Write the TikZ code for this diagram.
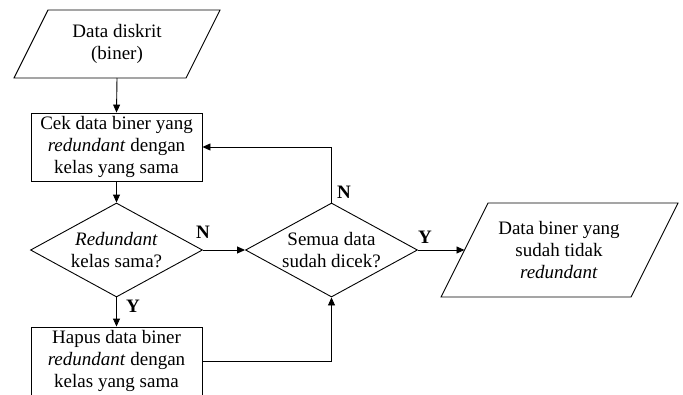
\documentclass[tikz,border=0pt]{standalone}
\usepackage{fontspec}
\setmainfont{Liberation Serif}
\usetikzlibrary{shapes.geometric,arrows.meta}
\begin{document}
\begin{tikzpicture}[x=1pt,y=-1pt,
  line width=0.9pt,
  txt/.style={font=\fontsize{19}{22}\selectfont, align=center, inner sep=0pt},
  procbox/.style={draw, rectangle, minimum width=171pt, minimum height=68pt, txt},
  decision/.style={draw, diamond, minimum width=172pt, minimum height=94pt, inner sep=0pt},
  flow/.style={-{Triangle[length=8pt,width=7pt]}},
  lbl/.style={font=\fontsize{19}{22}\selectfont\bfseries, inner sep=0pt}]
\useasboundingbox (0,0) rectangle (683,394);
\clip (0,0) rectangle (683,394);

% input data (parallelogram)
\draw (48,10) -- (220,10) -- (186,78) -- (14,78) -- cycle;
\node[txt] (in) at (117,44) {Data diskrit\\(biner)};
\coordinate (in-s) at (117,78);

% processing steps
\node[procbox] (check) at (116.5,147) {Cek data biner yang\\\textit{redundant} dengan\\kelas yang sama};
\node[decision] (red) at (116.5,250) {};
\node[txt] (red-t) at (red) {\textit{Redundant}\\kelas sama?};
\node[procbox] (del) at (116.5,361) {Hapus data biner\\\textit{redundant} dengan\\kelas yang sama};
\node[decision] (all) at (331.5,250) {};
\node[txt] (all-t) at (all) {Semua data\\sudah dicek?};

% output data (parallelogram)
\draw (488,203) -- (678,203) -- (631,297) -- (441,297) -- cycle;
\node[txt] (out) at (559,250) {Data biner yang\\sudah tidak\\\textit{redundant}};
\coordinate (out-w) at (464.5,250);

% connectors
\draw[flow] (in-s) -- (check.north);
\draw[flow] (check.south) -- (red.north);
\draw[flow] (red.south) -- (del.north);
\draw[flow] (red.east) -- (all.west);
\draw[flow] (del.east) -| (all.south);
\draw[flow] (all.north) |- (check.east);
\draw[flow] (all.east) -- (out-w);

% branch labels
\node[lbl] (y1) at (133,306) {Y};
\node[lbl] (n1) at (203,232) {N};
\node[lbl] (n2) at (344,192) {N};
\node[lbl] (y2) at (425,237) {Y};
\end{tikzpicture}
\end{document}
